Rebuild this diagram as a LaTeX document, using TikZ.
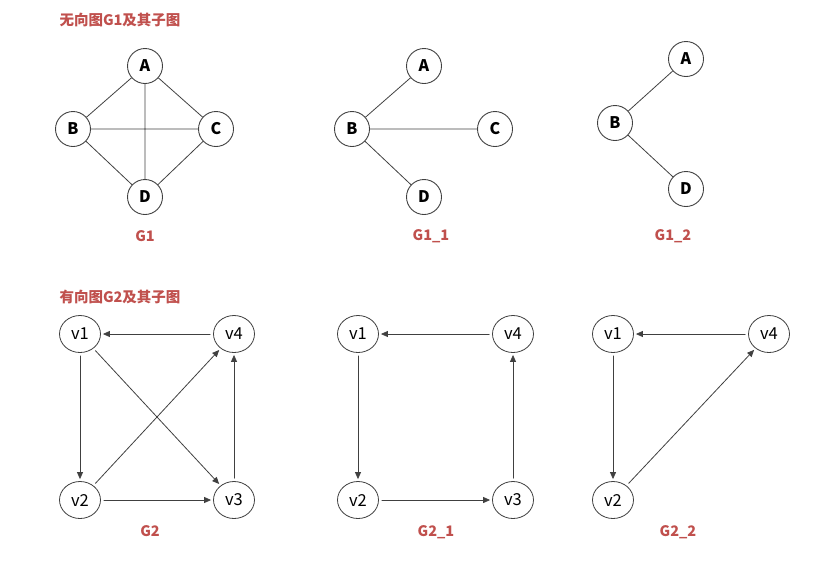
\documentclass[tikz,border=0pt]{standalone}
\usepackage{fontspec}
\setmainfont{Noto Sans CJK SC}
\usetikzlibrary{arrows.meta,shapes.geometric}
\definecolor{titlered}{HTML}{C0504D}
\definecolor{edgegray}{HTML}{404040}
\begin{document}
\begin{tikzpicture}[x=1pt, y=-1pt, line join=round, line cap=round, >={Triangle[length=7pt,width=6pt]},
	vtx/.style={circle, draw=edgegray, line width=0.9pt, minimum size=35pt, inner sep=0pt, font=\fontsize{16}{16}\selectfont\bfseries},
	dvtx/.style={ellipse, draw=edgegray, line width=0.8pt, minimum width=41pt, minimum height=37pt, inner sep=0pt, font=\fontsize{16.5}{16}\selectfont},
	edge/.style={draw=edgegray, line width=0.8pt},
	arc/.style={edge, ->, shorten <=3pt, shorten >=2pt},
	caption/.style={text=titlered, font=\fontsize{14.5}{14}\selectfont\bfseries},
	heading/.style={text=titlered, font=\fontsize{14.5}{14}\selectfont\bfseries, anchor=west}]
	\useasboundingbox (0,0) rectangle (826,587);
	% undirected graph G1 and its subgraphs
	\node[heading] (h1) at (56,20) {无向图G1及其子图};
	\node[vtx] (a) at (145,66) {A};
	\node[vtx] (b) at (73,129) {B};
	\node[vtx] (c) at (216,129) {C};
	\node[vtx] (d) at (145,197) {D};
	\draw[edge] (a)--(b) (a)--(c) (a)--(d) (b)--(c) (b)--(d) (c)--(d);
	\node[caption] (g1) at (145,236) {G1};
	\node[vtx] (a1) at (424,66) {A};
	\node[vtx] (b1) at (352,129) {B};
	\node[vtx] (c1) at (495,129) {C};
	\node[vtx] (d1) at (424,197) {D};
	\draw[edge] (b1)--(a1) (b1)--(c1) (b1)--(d1);
	\node[caption] (g11) at (431,236) {G1\_1};
	\node[vtx] (a2) at (686,59) {A};
	\node[vtx] (b2) at (615,123) {B};
	\node[vtx] (d2) at (686,189) {D};
	\draw[edge] (b2)--(a2) (b2)--(d2);
	\node[caption] (g12) at (673,236) {G1\_2};
	% directed graph G2 and its subgraphs
	\node[heading] (h2) at (56,297) {有向图G2及其子图};
	\node[dvtx] (v1) at (80,334) {v1};
	\node[dvtx] (v4) at (234,334) {v4};
	\node[dvtx] (v2) at (80,500) {v2};
	\node[dvtx] (v3) at (234,500) {v3};
	\draw[arc] (v4)--(v1);
	\draw[arc] (v1)--(v2);
	\draw[arc] (v1)--(v3);
	\draw[arc] (v2)--(v4);
	\draw[arc] (v2)--(v3);
	\draw[arc] (v3)--(v4);
	\node[caption] (g2) at (150,531) {G2};
	\node[dvtx] (u1) at (358,334) {v1};
	\node[dvtx] (u4) at (513,334) {v4};
	\node[dvtx] (u2) at (358,500) {v2};
	\node[dvtx] (u3) at (513,500) {v3};
	\draw[arc] (u4)--(u1);
	\draw[arc] (u1)--(u2);
	\draw[arc] (u2)--(u3);
	\draw[arc] (u3)--(u4);
	\node[caption] (g21) at (436,532) {G2\_1};
	\node[dvtx] (w1) at (613,334) {v1};
	\node[dvtx] (w4) at (769,334) {v4};
	\node[dvtx] (w2) at (613,500) {v2};
	\draw[arc] (w4)--(w1);
	\draw[arc] (w1)--(w2);
	\draw[arc] (w2)--(w4);
	\node[caption] (g22) at (678,532) {G2\_2};
\end{tikzpicture}
\end{document}
